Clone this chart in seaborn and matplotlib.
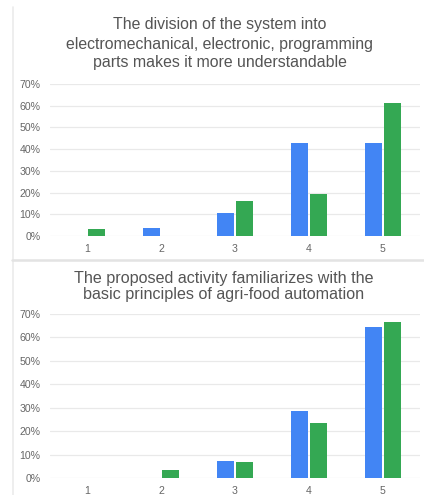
import matplotlib
matplotlib.use("Agg")
import matplotlib.pyplot as plt
from matplotlib.lines import Line2D
from matplotlib.ticker import FuncFormatter
import pandas as pd
import seaborn as sns

# Response scale and share of answers (%) for each question
ratings = ["1", "2", "3", "4", "5"]
series_names = ["series_1", "series_2"]

q1_title = ["The division of the system into",
            "electromechanical, electronic, programming",
            "parts makes it more understandable"]
q1_series_1 = [0.0, 3.6, 10.7, 42.9, 42.9]
q1_series_2 = [3.2, 0.0, 16.1, 19.4, 61.3]

q2_title = ["The proposed activity familiarizes with the",
            "basic principles of agri-food automation"]
q2_series_1 = [0.0, 0.0, 7.1, 28.6, 64.3]
q2_series_2 = [0.0, 3.3, 6.7, 23.3, 66.7]

y_ticks = [0, 10, 20, 30, 40, 50, 60, 70]

palette = ["#4285F4", "#34A853"]
text_color = "#666666"
title_color = "#555555"
grid_color = "#e9e9e9"

sns.set_theme(style="white")
plt.rcParams["font.family"] = ["Liberation Sans", "DejaVu Sans"]

W, H = 424, 495
fig = plt.figure(figsize=(W / 100, H / 100), dpi=100)
fig.patch.set_facecolor("white")


def frame(left, top, right, bottom):
    return [left / W, 1 - bottom / H, (right - left) / W, (bottom - top) / H]


def long_table(s1, s2):
    rows = []
    for name, vals in zip(series_names, (s1, s2)):
        for r, v in zip(ratings, vals):
            rows.append({"rating": r, "series": name, "share": v})
    return pd.DataFrame(rows)


def panel(rect, s1, s2, title_lines, title_ys, title_x, title_size):
    ax = fig.add_axes(rect)
    df = long_table(s1, s2)
    sns.barplot(data=df, x="rating", y="share", hue="series",
                order=ratings, hue_order=series_names, palette=palette,
                width=0.52, gap=0.14, linewidth=0, saturation=1,
                legend=False, ax=ax, zorder=3)
    ax.set_ylim(0, 70)
    ax.set_xlim(-0.5, 4.5)
    ax.set_yticks(y_ticks)
    ax.yaxis.set_major_formatter(FuncFormatter(lambda v, _: f"{v:.0f}%"))
    ax.grid(axis="y", color=grid_color, linewidth=0.9, zorder=0)
    ax.grid(axis="x", visible=False)
    for s in ax.spines.values():
        s.set_visible(False)
    ax.tick_params(axis="both", length=0, labelsize=7.6, colors=text_color)
    ax.tick_params(axis="y", pad=7)
    ax.tick_params(axis="x", pad=6)
    ax.set_xlabel("")
    ax.set_ylabel("")
    for line, y in zip(title_lines, title_ys):
        fig.text(title_x / W, 1 - y / H, line, ha="center", va="center",
                 fontsize=title_size, color=title_color)
    return ax


panel(frame(50, 84, 420, 236), q1_series_1, q1_series_2,
      q1_title, [25, 44, 63], 220, 11.4)
panel(frame(50, 314, 420, 478), q2_series_1, q2_series_2,
      q2_title, [278, 294], 224, 11.6)

# Card borders: left rule and separator between the two questions
fig.add_artist(Line2D([12.5 / W, 12.5 / W], [0, 1 - 7 / H],
                      transform=fig.transFigure, color="#ebebeb", linewidth=1.2))
fig.add_artist(Line2D([12 / W, 1], [1 - 260 / H, 1 - 260 / H],
                      transform=fig.transFigure, color="#e3e3e3", linewidth=1.8))

fig.savefig("out.png", dpi=100, facecolor="white")
